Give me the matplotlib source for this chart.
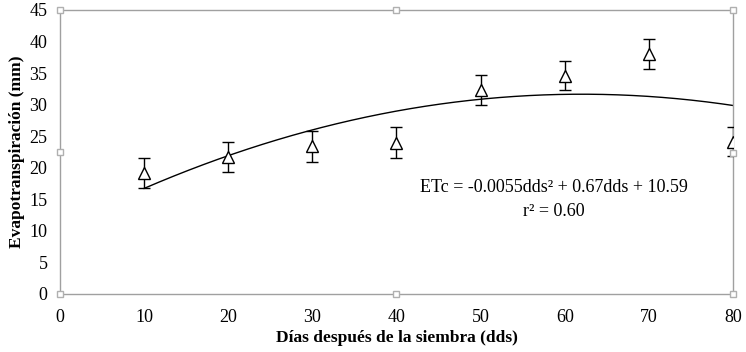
import matplotlib
matplotlib.use("Agg")
import matplotlib.pyplot as plt
import numpy as np

plt.rcParams['font.family'] = ['Liberation Serif', 'DejaVu Serif']

dds = [10, 20, 30, 40, 50, 60, 70, 80]
etc = [19.2, 21.7, 23.4, 24.0, 32.3, 34.6, 38.0, 24.1]
err = [2.4, 2.4, 2.5, 2.4, 2.35, 2.35, 2.4, 2.3]
xticks = [0, 10, 20, 30, 40, 50, 60, 70, 80]
yticks = [0, 5, 10, 15, 20, 25, 30, 35, 40, 45]
eq_text = "ETc = -0.0055dds² + 0.67dds + 10.59"
r2_text = "r² = 0.60"

fig = plt.figure(figsize=(7.46, 3.52), dpi=100)
ax = fig.add_axes([0.0804, 0.1648, 0.9022, 0.8068])

# quadratic trendline fitted to the data (as in Excel)
coef = np.polyfit(dds, etc, 2)
xs = np.linspace(dds[0], dds[-1], 200)
ax.plot(xs, np.polyval(coef, xs), color='black', lw=1.0, zorder=2)

ax.errorbar(dds, etc, yerr=err, fmt='^', ms=9, mfc='white', mec='black',
            mew=1.0, ecolor='black', elinewidth=1.0, capsize=4, capthick=1.0, zorder=3)

ax.set_xlim(0, 80)
ax.set_ylim(0, 45)
ax.set_xticks(xticks)
ax.set_yticks(yticks)
ax.tick_params(axis='y', length=0, labelsize=13, pad=9)
ax.tick_params(axis='x', length=0, labelsize=13, pad=11)
for s in ax.spines.values():
    s.set_color('#a0a0a0')
    s.set_linewidth(1.0)

ax.set_xlabel('Días después de la siembra (dds)', fontsize=12.5, fontweight='bold', labelpad=3)
ax.set_ylabel('Evapotranspiración (mm)', fontsize=12.5, fontweight='bold', labelpad=3)

ax.text(58.7, 16.8, eq_text, ha='center', va='center', fontsize=13)
ax.text(58.7, 13.0, r2_text, ha='center', va='center', fontsize=13)

# selection handles (Excel frame)
hx = [0, 40, 80, 0, 80, 0, 40, 80]
hy = [45, 45, 45, 22.5, 22.3, 0, 0, 0]
ax.plot(hx, hy, 's', ms=5, mfc='white', mec='#b0b0b0', mew=1.0, clip_on=False, zorder=4)

fig.savefig('out.png', dpi=100)
